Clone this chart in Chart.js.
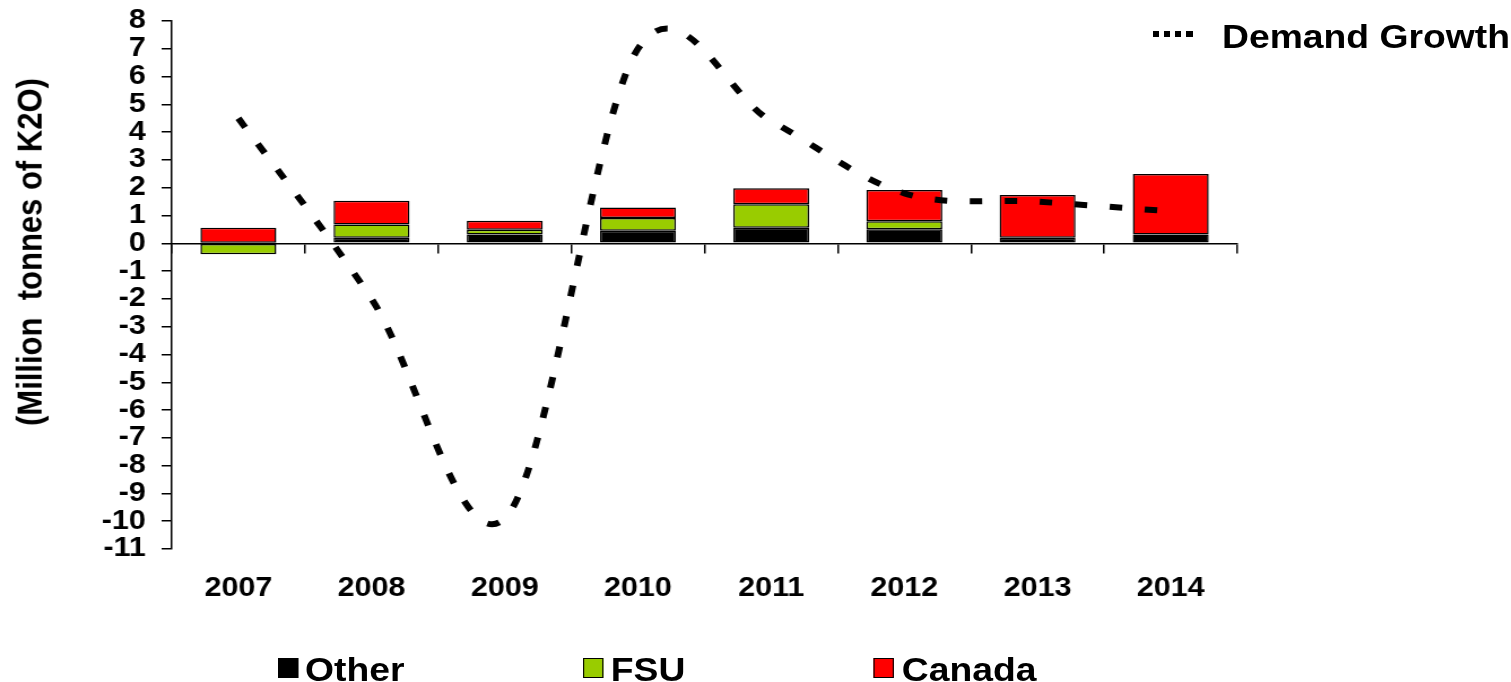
<!DOCTYPE html>
<html>
<head>
<meta charset="utf-8">
<script src="https://cdn.jsdelivr.net/npm/chart.js@4.4.1/dist/chart.umd.min.js"></script>
<style>
  html, body { margin: 0; padding: 0; background: #fff; overflow: hidden; }
  #stage {
    position: absolute; left: 0; top: 0; width: 1337px; height: 682px;
    transform: scaleX(1.13); transform-origin: 0 0;
    font-family: "Liberation Sans", Arial, sans-serif; font-weight: bold; color: #000;
  }
  #c { position: absolute; left: 0; top: 0; }
  .ytitle {
    position: absolute; left: 25.7px; top: 251.5px;
    transform: translate(-50%, -50%) rotate(-90deg);
    white-space: pre; font-size: 31px; line-height: 1;
  }
  .lg-text { position: absolute; font-size: 33px; line-height: 33px; white-space: pre; }
  .lg-box { position: absolute; width: 17.7px; height: 20px; box-sizing: border-box; border: 1.5px solid #000; }
  .lg-dots {
    position: absolute; height: 5.6px; width: 35.4px;
    background: repeating-linear-gradient(to right, #000 0 5.75px, transparent 5.75px 9.9px);
  }
</style>
</head>
<body>
<div id="stage">
  <canvas id="c" width="1337" height="682"></canvas>
  <div class="ytitle">(Million  tonnes of K2O)</div>
  <div class="lg-dots" style="left:1020.4px; top:31px;"></div>
  <div class="lg-text" style="left:1081.4px; top:20px;">Demand Growth</div>
  <div class="lg-box" style="left:246px; top:658px; background:#000;"></div>
  <div class="lg-text" style="left:270px; top:653px;">Other</div>
  <div class="lg-box" style="left:516px; top:658px; background:#99CC00;"></div>
  <div class="lg-text" style="left:540.5px; top:653px;">FSU</div>
  <div class="lg-box" style="left:773px; top:658px; background:#FF0000;"></div>
  <div class="lg-text" style="left:798px; top:653px;">Canada</div>
</div>
<script>
// ---- data ----
const years = ['2007', '2008', '2009', '2010', '2011', '2012', '2013', '2014'];
const other = [0.02, 0.20, 0.32, 0.45, 0.56, 0.51, 0.20, 0.32];
const fsu = [-0.39, 0.48, 0.17, 0.46, 0.85, 0.28, 0, 0];
const canada = [0.54, 0.85, 0.32, 0.38, 0.57, 1.13, 1.54, 2.17];
const demandGrowth = [4.5, -2.0, -9.9, 7.0, 4.4, 1.8, 1.5, 1.15];
const yMin = -11;
const yMax = 8;
const yStep = 1;

const FONT = '"Liberation Sans", Arial, sans-serif';

// Spreadsheet-style smoothing: control points from the neighbouring points
// (uniform Catmull-Rom, factor 1/6), using the pixel positions Chart.js computed.
const sheetSmooth = {
  id: 'sheetSmooth',
  beforeDatasetDraw(chart, args) {
    const meta = args.meta;
    if (meta.type !== 'line' || !meta.dataset) return;
    const line = meta.dataset;
    line.updateControlPoints(chart.chartArea, meta.indexAxis);
    const pts = meta.data;
    const n = pts.length;
    for (let i = 0; i < n; i++) {
      const p = pts[i];
      const prev = pts[Math.max(i - 1, 0)];
      const next = pts[Math.min(i + 1, n - 1)];
      const dx = (next.x - prev.x) / 6;
      const dy = (next.y - prev.y) / 6;
      p.cp1x = p.x - dx; p.cp1y = p.y - dy;
      p.cp2x = p.x + dx; p.cp2y = p.y + dy;
    }
    line._path = undefined;
  }
};

new Chart(document.getElementById('c'), {
  type: 'bar',
  data: {
    labels: years,
    datasets: [
      {
        type: 'line', label: 'Demand Growth', data: demandGrowth,
        borderColor: '#000', borderWidth: 6, borderDash: [11, 20], borderCapStyle: 'butt',
        tension: 0.4, pointRadius: 0, fill: false, order: 0, stack: 'line'
      },
      { label: 'Other', data: other, backgroundColor: '#000000', borderColor: '#000', borderWidth: 1.5, borderSkipped: false, stack: 'bars', order: 1 },
      { label: 'FSU', data: fsu, backgroundColor: '#99CC00', borderColor: '#000', borderWidth: 1.5, borderSkipped: false, stack: 'bars', order: 1 },
      { label: 'Canada', data: canada, backgroundColor: '#FF0000', borderColor: '#000', borderWidth: 1.5, borderSkipped: false, stack: 'bars', order: 1 }
    ]
  },
  plugins: [sheetSmooth],
  options: {
    responsive: false,
    animation: false,
    layout: { padding: { left: 0, right: 242, top: 21, bottom: 78 } },
    plugins: { legend: { display: false }, tooltip: { enabled: false } },
    datasets: { bar: { barPercentage: 0.57, categoryPercentage: 1 } },
    scales: {
      x: {
        stacked: true, offset: true,
        grid: { display: false, drawTicks: false },
        border: { display: false },
        ticks: { font: { family: FONT, size: 27, weight: 'bold' }, color: '#000', padding: 23, maxRotation: 0, autoSkip: false },
        afterFit: s => { s.height = 55; }
      },
      x2: {
        type: 'category', position: { y: 0 }, offset: true,
        grid: { offset: true, drawOnChartArea: false, drawTicks: true, tickLength: 9, color: '#000', lineWidth: 1.5 },
        border: { display: true, color: '#000', width: 1.5 },
        ticks: { display: false }
      },
      y: {
        stacked: true, min: yMin, max: yMax,
        ticks: { stepSize: yStep, autoSkip: false, font: { family: FONT, size: 27, weight: 'bold', lineHeight: 1 }, color: '#000', padding: 14 },
        grid: { drawOnChartArea: false, drawTicks: true, tickLength: 9, color: '#000', lineWidth: 1.5 },
        border: { display: true, color: '#000', width: 1.5 },
        afterFit: s => { s.width = 152; s.paddingTop = 0; s.paddingBottom = 0; }
      }
    }
  }
});
</script>
</body>
</html>
